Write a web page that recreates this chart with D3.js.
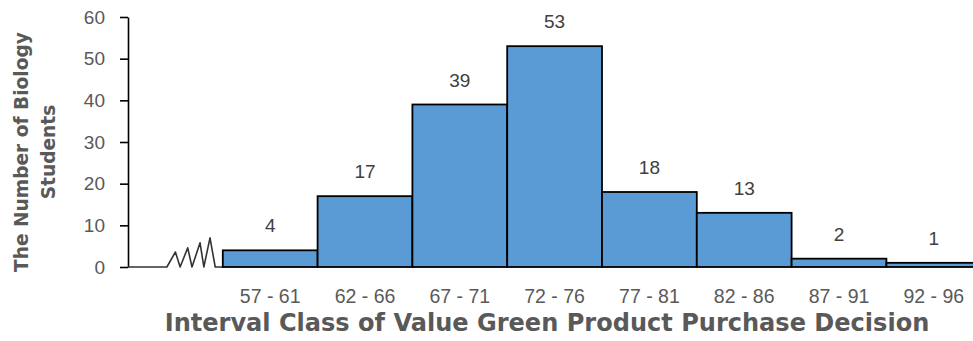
<!DOCTYPE html>
<html>
<head>
<meta charset="utf-8">
<script src="https://cdn.jsdelivr.net/npm/d3@7"></script>
<style>
  html, body { margin: 0; padding: 0; background: #fff; }
  svg { display: block; }
  text { font-family: "Liberation Sans", Arial, sans-serif; }
</style>
</head>
<body>
<div id="chart"></div>
<script>
// Frequency table of the purchase-decision scores
const categories = ["", "57 - 61", "62 - 66", "67 - 71", "72 - 76", "77 - 81", "82 - 86", "87 - 91", "92 - 96"];
const counts = [null, 4, 17, 39, 53, 18, 13, 2, 1];
const yTicks = [0, 10, 20, 30, 40, 50, 60];
const xTitle = "Interval Class of Value Green Product Purchase Decision";
const yTitleLines = ["The Number of Biology", "Students"];

const W = 973, H = 341;
const margin = { left: 128, top: 17, bottom: 74 };
const plotH = H - margin.top - margin.bottom;
const labelFont = "'Liberation Sans', Arial, sans-serif";
const titleFont = "'DejaVu Sans', Verdana, sans-serif";

const svg = d3.select("#chart").append("svg")
  .attr("width", W).attr("height", H);

const x = d3.scaleBand()
  .domain(categories.map((c, i) => i))
  .range([margin.left, margin.left + 94.8 * categories.length])
  .padding(0);

const y = d3.scaleLinear().domain([0, 60]).range([margin.top + plotH, margin.top]);

// Y axis
const yAxis = svg.append("g")
  .attr("transform", `translate(${margin.left},0)`)
  .call(d3.axisLeft(y).tickValues(yTicks).tickSize(8).tickPadding(15).tickSizeOuter(0));
yAxis.select(".domain").attr("stroke", "#000").attr("stroke-width", 1.6);
yAxis.selectAll(".tick line").attr("stroke", "#000").attr("stroke-width", 1.6);
yAxis.selectAll(".tick text")
  .attr("fill", "#595959").style("font-size", "19px")
  .style("font-family", labelFont);

// Baseline with an axis break in the first (empty) band
const b0 = x(0), bw = x.bandwidth();
const breakPts = [
  [0, 0], [0.41, 0], [0.5, 3.6], [0.55, 0], [0.63, 4.6], [0.675, 0],
  [0.76, 5.8], [0.8, 0], [0.865, 7], [0.92, 0], [1.0, 0]
];
const breakLine = d3.line()
  .x(d => b0 + d[0] * bw)
  .y(d => y(d[1]));
svg.append("path")
  .attr("d", breakLine(breakPts))
  .attr("fill", "none")
  .attr("stroke", "#333")
  .attr("stroke-width", 1.6)
  .attr("stroke-linejoin", "round");

// Histogram bars
const bars = categories.map((c, i) => ({ i, c, v: counts[i] })).filter(d => d.v != null);
svg.append("g").selectAll("rect").data(bars).join("rect")
  .attr("x", d => x(d.i))
  .attr("width", bw)
  .attr("y", d => y(d.v))
  .attr("height", d => y(0) - y(d.v))
  .attr("fill", "#5B9BD5")
  .attr("stroke", "#000")
  .attr("stroke-width", 1.8);

// Value labels
svg.append("g").selectAll("text").data(bars).join("text")
  .attr("x", d => x(d.i) + bw / 2)
  .attr("y", d => y(d.v) - 18)
  .attr("text-anchor", "middle")
  .attr("fill", "#404040")
  .style("font-size", "19px")
  .text(d => d.v);

// Category labels
svg.append("g").selectAll("text").data(bars).join("text")
  .attr("x", d => x(d.i) + bw / 2)
  .attr("y", y(0) + 36)
  .attr("text-anchor", "middle")
  .attr("fill", "#595959")
  .style("font-size", "19.5px")
  .text(d => d.c);

// Axis titles, sized to their span
function fitText(sel, width) {
  const len = sel.node().getComputedTextLength();
  const fs = parseFloat(sel.style("font-size"));
  sel.style("font-size", (fs * width / len) + "px");
}

const xt = svg.append("text")
  .attr("x", 547).attr("y", 331)
  .attr("text-anchor", "middle")
  .attr("fill", "#595959")
  .style("font-family", titleFont)
  .style("font-size", "20px").style("font-weight", "bold")
  .text(xTitle);
fitText(xt, 765);

const yt = svg.append("text")
  .attr("transform", "translate(28,152) rotate(-90)")
  .attr("text-anchor", "middle")
  .attr("fill", "#595959")
  .style("font-family", titleFont)
  .style("font-size", "20px").style("font-weight", "bold");
yTitleLines.forEach((t, k) => {
  yt.append("tspan").attr("x", 0).attr("dy", k === 0 ? 0 : 27).text(t);
});
const firstLine = yt.select("tspan").node().getComputedTextLength();
yt.style("font-size", (20 * 240 / firstLine) + "px");
</script>
</body>
</html>
